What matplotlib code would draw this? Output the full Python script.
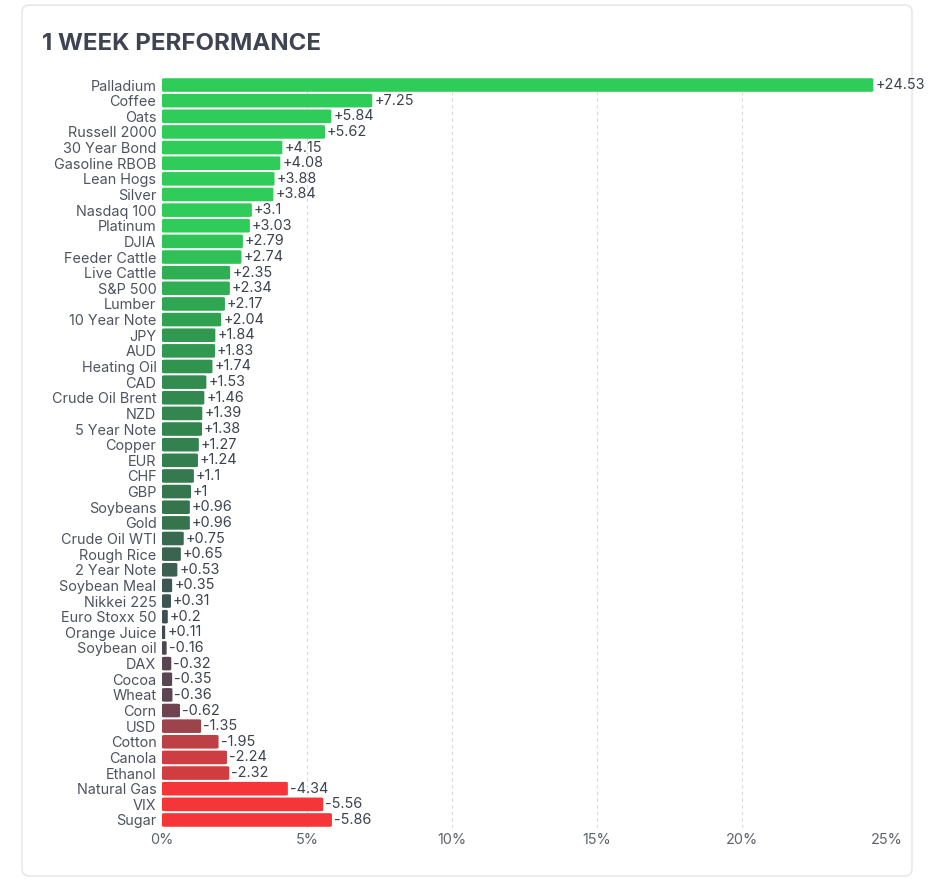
import matplotlib
matplotlib.use("Agg")
import matplotlib.pyplot as plt
from matplotlib.colors import LinearSegmentedColormap, Normalize
from matplotlib.patches import FancyBboxPatch

names = ["Palladium", "Coffee", "Oats", "Russell 2000", "30 Year Bond", "Gasoline RBOB",
         "Lean Hogs", "Silver", "Nasdaq 100", "Platinum", "DJIA", "Feeder Cattle",
         "Live Cattle", "S&P 500", "Lumber", "10 Year Note", "JPY", "AUD", "Heating Oil",
         "CAD", "Crude Oil Brent", "NZD", "5 Year Note", "Copper", "EUR", "CHF", "GBP",
         "Soybeans", "Gold", "Crude Oil WTI", "Rough Rice", "2 Year Note", "Soybean Meal",
         "Nikkei 225", "Euro Stoxx 50", "Orange Juice", "Soybean oil", "DAX", "Cocoa",
         "Wheat", "Corn", "USD", "Cotton", "Canola", "Ethanol", "Natural Gas", "VIX", "Sugar"]
values = [24.53, 7.25, 5.84, 5.62, 4.15, 4.08, 3.88, 3.84, 3.1, 3.03, 2.79, 2.74,
          2.35, 2.34, 2.17, 2.04, 1.84, 1.83, 1.74, 1.53, 1.46, 1.39, 1.38, 1.27,
          1.24, 1.1, 1, 0.96, 0.96, 0.75, 0.65, 0.53, 0.35, 0.31, 0.2, 0.11,
          -0.16, -0.32, -0.35, -0.36, -0.62, -1.35, -1.95, -2.24, -2.32, -4.34, -5.56, -5.86]
xticks = [0, 5, 10, 15, 20, 25]
xtick_labels = ["0%", "5%", "10%", "15%", "20%", "25%"]

scale_colors = ["#f63538", "#bf4045", "#8b444e", "#414554", "#35764e", "#2f9e4f", "#30cc5a"]
cmap = LinearSegmentedColormap.from_list("perf", scale_colors)
norm = Normalize(vmin=-3, vmax=3, clip=True)

plt.rcParams["font.family"] = ["Inter", "DejaVu Sans"]

W, H = 942, 889
fig = plt.figure(figsize=(W / 100, H / 100), dpi=100)
fig.patch.set_facecolor("white")

# card
card = FancyBboxPatch((22 / W, 1 - 876 / H), (912 - 22) / W, (876 - 5) / H,
                      boxstyle="round,pad=0,rounding_size=0.008",
                      transform=fig.transFigure, facecolor="none",
                      edgecolor="#e3e4e8", linewidth=1.0, zorder=-10)
fig.patches.append(card)

fig.text(42 / W, 1 - 44 / H, "1 WEEK PERFORMANCE", fontsize=17.3, fontweight="bold",
         color="#3f4453", ha="left", va="center")

left_px, right_px = 162, 887
top_px, bot_px = 77.2, 827.8
ax = fig.add_axes([left_px / W, 1 - bot_px / H, (right_px - left_px) / W, (bot_px - top_px) / H])
ax.set_facecolor("none")

n = len(names)
ypos = list(range(n))
mags = [abs(v) for v in values]
colors = [cmap(norm(v)) for v in values]
bh = 0.87
bars = ax.barh(ypos, mags, height=bh, color=colors)
ax.set_xlim(0, 25)
ax.set_ylim(n - 0.5, -0.5)

# rounded versions of bars
px_per_x = (right_px - left_px) / 25
px_per_y = (bot_px - top_px) / n
ma = px_per_x / px_per_y
for b, c in zip(bars, colors):
    b.set_visible(False)
    x0, y0, w, h = b.get_x(), b.get_y(), b.get_width(), b.get_height()
    r = min(0.1, w / 2 * 0.95)
    p = FancyBboxPatch((x0, y0), w, h, boxstyle=f"round,pad=0,rounding_size={r}",
                       mutation_aspect=1 / ma, facecolor=c, edgecolor="none", zorder=2)
    ax.add_patch(p)

for y, m, v in zip(ypos, mags, values):
    ax.annotate(f"{v:+g}", (m, y), xytext=(2, 0), textcoords="offset pixels",
                ha="left", va="center", fontsize=10.4, color="#3d4150", zorder=3,
                annotation_clip=False)

ax.set_yticks(ypos)
ax.set_yticklabels(names, fontsize=10.4, color="#4f5361")
ax.set_xticks(xticks)
ax.set_xticklabels(xtick_labels, fontsize=10.4, color="#5e626e")
ax.tick_params(axis="both", length=0)
ax.tick_params(axis="y", pad=4)
ax.tick_params(axis="x", pad=3.5)
for s in ax.spines.values():
    s.set_visible(False)
for xv in xticks[1:]:
    ax.axvline(xv, color="#d9dadf", linestyle=(0, (3, 3)), linewidth=0.8, zorder=1)

fig.savefig("out.png", dpi=100, facecolor="white")
